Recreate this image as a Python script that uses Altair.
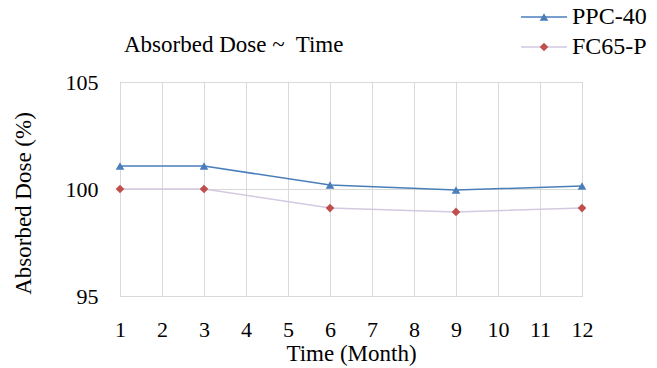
import altair as alt
import pandas as pd

months = [1, 3, 6, 9, 12]
ppc40 = [101.07, 101.07, 100.19, 99.95, 100.14]
fc65p = [100.0, 100.0, 99.11, 98.93, 99.11]
series_names = ["PPC-40", "FC65-P"]
line_colors = ["#4a7ebb", "#d3c9e0"]
marker_colors = ["#4a7ebb", "#c0504d"]
marker_shapes = ["triangle-up", "diamond"]
x_ticks = list(range(1, 13))
y_ticks = [95, 100, 105]
chart_title = "Absorbed Dose ~\u00a0 Time"

FONT = "'Times New Roman', 'Liberation Serif', 'DejaVu Serif', serif"
FS = 23

df = pd.DataFrame({
    "month": months * 2,
    "value": ppc40 + fc65p,
    "series": [series_names[0]] * len(months) + [series_names[1]] * len(months),
})

x_enc = alt.X("month:Q", scale=alt.Scale(domain=[1, 12], nice=False),
              axis=alt.Axis(values=x_ticks, title="Time (Month)", grid=True,
                            gridColor="#d9d9d9", domain=False, ticks=False,
                            labelPadding=23, labelFontSize=22, labelFont=FONT,
                            labelColor="black", titleFont=FONT, titleFontSize=FS,
                            titleFontWeight="normal", titleColor="black",
                            titlePadding=2, labelFlush=False))
y_enc = alt.Y("value:Q", scale=alt.Scale(domain=[95, 105], nice=False),
              axis=alt.Axis(values=y_ticks, title="Absorbed Dose (%)", grid=True,
                            gridColor="#d9d9d9", domain=False, ticks=False,
                            labelPadding=22, labelFontSize=22, labelFont=FONT,
                            labelColor="black", titleFont=FONT, titleFontSize=FS,
                            titleFontWeight="normal", titleColor="black",
                            titlePadding=30, titleY=121))

layers = []
for i, name in enumerate(series_names):
    sub = df[df["series"] == name]
    layers.append(alt.Chart(sub).mark_line(color=line_colors[i], strokeWidth=1.5).encode(x=x_enc, y=y_enc))
for i, name in enumerate(series_names):
    sub = df[df["series"] == name]
    layers.append(alt.Chart(sub).mark_point(shape=marker_shapes[i], filled=True, opacity=1,
                                            color=marker_colors[i], size=75).encode(x=x_enc, y=y_enc))

# title text
layers.append(alt.Chart(pd.DataFrame({"t": [chart_title]})).mark_text(
    font=FONT, fontSize=FS, align="left", baseline="middle", color="black").encode(
    x=alt.value(4), y=alt.value(-37), text="t:N"))

# legend
leg_y = [-65, -35]
for i, name in enumerate(series_names):
    d = pd.DataFrame({"name": [name]})
    layers.append(alt.Chart(d).mark_rule(color=line_colors[i], strokeWidth=1.5).encode(
        x=alt.value(401), x2=alt.value(447), y=alt.value(leg_y[i])))
    layers.append(alt.Chart(d).mark_point(shape=marker_shapes[i], filled=True, opacity=1,
                                          color=marker_colors[i], size=75).encode(
        x=alt.value(424), y=alt.value(leg_y[i])))
    layers.append(alt.Chart(d).mark_text(font=FONT, fontSize=FS + 1, align="left",
                                         baseline="middle", color="black").encode(
        x=alt.value(452), y=alt.value(leg_y[i]), text="name:N"))

chart = alt.layer(*layers).properties(
    width=462, height=214,
    autosize=alt.AutoSizeParams(type="none"),
    padding={"left": 120, "top": 82, "right": 75, "bottom": 72},
    background="white",
).configure_view(stroke="#bfbfbf", strokeWidth=1)

chart.save("out.html", embed_options={"renderer": "svg", "actions": False})
